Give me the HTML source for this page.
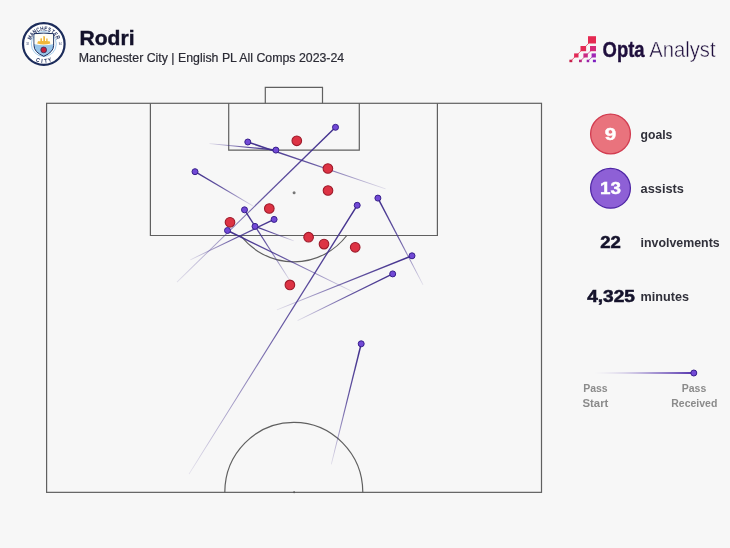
<!DOCTYPE html>
<html><head><meta charset="utf-8"><title>Rodri</title>
<style>
html,body{margin:0;padding:0;background:#f7f7f7;}
body{width:730px;height:548px;overflow:hidden;font-family:"Liberation Sans",sans-serif;}
svg{display:block;will-change:transform;}
text{font-family:"Liberation Sans",sans-serif;}
</style></head><body>
<svg width="730" height="548" viewBox="0 0 730 548">
<rect width="730" height="548" fill="#f7f7f7"/>

<defs><linearGradient id="g0" gradientUnits="userSpaceOnUse" x1="385.6360715595049" y1="188.88644716544974" x2="247.8" y2="142.0"><stop offset="0" stop-color="#402e8c" stop-opacity="0.12"/><stop offset="0.25" stop-color="#402e8c" stop-opacity="0.45"/><stop offset="0.55" stop-color="#402e8c" stop-opacity="0.8"/><stop offset="1" stop-color="#402e8c" stop-opacity="1.0"/></linearGradient><linearGradient id="g1" gradientUnits="userSpaceOnUse" x1="209.50556299909388" y1="143.68458660880816" x2="275.9" y2="150.1"><stop offset="0" stop-color="#402e8c" stop-opacity="0.12"/><stop offset="0.25" stop-color="#402e8c" stop-opacity="0.45"/><stop offset="0.55" stop-color="#402e8c" stop-opacity="0.8"/><stop offset="1" stop-color="#402e8c" stop-opacity="1.0"/></linearGradient><linearGradient id="g2" gradientUnits="userSpaceOnUse" x1="253.23232052333958" y1="206.2118123381331" x2="195.0" y2="171.7"><stop offset="0" stop-color="#402e8c" stop-opacity="0.12"/><stop offset="0.25" stop-color="#402e8c" stop-opacity="0.45"/><stop offset="0.55" stop-color="#402e8c" stop-opacity="0.8"/><stop offset="1" stop-color="#402e8c" stop-opacity="1.0"/></linearGradient><linearGradient id="g3" gradientUnits="userSpaceOnUse" x1="176.94145998883016" y1="282.1383967135077" x2="335.5" y2="127.3"><stop offset="0" stop-color="#402e8c" stop-opacity="0.12"/><stop offset="0.25" stop-color="#402e8c" stop-opacity="0.45"/><stop offset="0.55" stop-color="#402e8c" stop-opacity="0.8"/><stop offset="1" stop-color="#402e8c" stop-opacity="1.0"/></linearGradient><linearGradient id="g4" gradientUnits="userSpaceOnUse" x1="190.31921456256745" y1="259.82144303450497" x2="274.1" y2="219.4"><stop offset="0" stop-color="#402e8c" stop-opacity="0.12"/><stop offset="0.25" stop-color="#402e8c" stop-opacity="0.45"/><stop offset="0.55" stop-color="#402e8c" stop-opacity="0.8"/><stop offset="1" stop-color="#402e8c" stop-opacity="1.0"/></linearGradient><linearGradient id="g5" gradientUnits="userSpaceOnUse" x1="290.14759933766453" y1="281.01025496675663" x2="244.5" y2="209.8"><stop offset="0" stop-color="#402e8c" stop-opacity="0.12"/><stop offset="0.25" stop-color="#402e8c" stop-opacity="0.45"/><stop offset="0.55" stop-color="#402e8c" stop-opacity="0.8"/><stop offset="1" stop-color="#402e8c" stop-opacity="1.0"/></linearGradient><linearGradient id="g6" gradientUnits="userSpaceOnUse" x1="353.57843920437995" y1="292.02627833173744" x2="227.5" y2="230.5"><stop offset="0" stop-color="#402e8c" stop-opacity="0.12"/><stop offset="0.25" stop-color="#402e8c" stop-opacity="0.45"/><stop offset="0.55" stop-color="#402e8c" stop-opacity="0.8"/><stop offset="1" stop-color="#402e8c" stop-opacity="1.0"/></linearGradient><linearGradient id="g7" gradientUnits="userSpaceOnUse" x1="293.82493815101213" y1="240.81774891549523" x2="255.0" y2="226.4"><stop offset="0" stop-color="#402e8c" stop-opacity="0.12"/><stop offset="0.25" stop-color="#402e8c" stop-opacity="0.45"/><stop offset="0.55" stop-color="#402e8c" stop-opacity="0.8"/><stop offset="1" stop-color="#402e8c" stop-opacity="1.0"/></linearGradient><linearGradient id="g8" gradientUnits="userSpaceOnUse" x1="423.0539752333256" y1="284.86447707390147" x2="377.9" y2="198.1"><stop offset="0" stop-color="#402e8c" stop-opacity="0.12"/><stop offset="0.25" stop-color="#402e8c" stop-opacity="0.45"/><stop offset="0.55" stop-color="#402e8c" stop-opacity="0.8"/><stop offset="1" stop-color="#402e8c" stop-opacity="1.0"/></linearGradient><linearGradient id="g9" gradientUnits="userSpaceOnUse" x1="188.963386814103" y1="474.1172136705443" x2="357.2" y2="205.3"><stop offset="0" stop-color="#402e8c" stop-opacity="0.12"/><stop offset="0.25" stop-color="#402e8c" stop-opacity="0.45"/><stop offset="0.55" stop-color="#402e8c" stop-opacity="0.8"/><stop offset="1" stop-color="#402e8c" stop-opacity="1.0"/></linearGradient><linearGradient id="g10" gradientUnits="userSpaceOnUse" x1="276.8861148419308" y1="309.9463853208083" x2="412.0" y2="255.8"><stop offset="0" stop-color="#402e8c" stop-opacity="0.12"/><stop offset="0.25" stop-color="#402e8c" stop-opacity="0.45"/><stop offset="0.55" stop-color="#402e8c" stop-opacity="0.8"/><stop offset="1" stop-color="#402e8c" stop-opacity="1.0"/></linearGradient><linearGradient id="g11" gradientUnits="userSpaceOnUse" x1="297.52237091626813" y1="320.5279351834223" x2="392.7" y2="273.9"><stop offset="0" stop-color="#402e8c" stop-opacity="0.12"/><stop offset="0.25" stop-color="#402e8c" stop-opacity="0.45"/><stop offset="0.55" stop-color="#402e8c" stop-opacity="0.8"/><stop offset="1" stop-color="#402e8c" stop-opacity="1.0"/></linearGradient><linearGradient id="g12" gradientUnits="userSpaceOnUse" x1="331.31148075661736" y1="464.4647989724403" x2="361.2" y2="343.8"><stop offset="0" stop-color="#402e8c" stop-opacity="0.12"/><stop offset="0.25" stop-color="#402e8c" stop-opacity="0.45"/><stop offset="0.55" stop-color="#402e8c" stop-opacity="0.8"/><stop offset="1" stop-color="#402e8c" stop-opacity="1.0"/></linearGradient><linearGradient id="g99" gradientUnits="userSpaceOnUse" x1="594.0" y1="373.0" x2="693.8" y2="373.0"><stop offset="0" stop-color="#5433ad" stop-opacity="0.0"/><stop offset="0.3" stop-color="#5433ad" stop-opacity="0.32"/><stop offset="0.6" stop-color="#5433ad" stop-opacity="0.7"/><stop offset="1" stop-color="#5433ad" stop-opacity="1.0"/></linearGradient></defs>

<g fill="none" stroke="#606060" stroke-width="1.2">
<rect x="46.6" y="103.3" width="494.9" height="389.05"/>
<path d="M150.4 103.3 V235.5 H437.4 V103.3"/>
<path d="M228.7 103.3 V150.2 H359.3 V103.3"/>
<path d="M265.3 103.3 V87.4 H322.5 V103.3"/>
<path d="M240.7 235.5 A67.5 69.1 0 0 0 346.8 235.5"/>
<path d="M224.8 492.35 A69 70 0 0 1 362.8 492.35"/>
</g>
<circle cx="294.1" cy="192.8" r="1.5" fill="#777"/>
<circle cx="294.1" cy="492.35" r="1.0" fill="#555"/>
<polygon points="385.76,188.51 248.04,141.29 247.56,142.71 385.51,189.27" fill="url(#g0)"/>
<polygon points="209.47,144.08 275.83,150.85 275.97,149.35 209.54,143.29" fill="url(#g1)"/>
<polygon points="253.44,205.87 195.38,171.05 194.62,172.35 253.03,206.56" fill="url(#g2)"/>
<polygon points="177.22,282.42 336.02,127.84 334.98,126.76 176.66,281.85" fill="url(#g3)"/>
<polygon points="190.49,260.18 274.43,220.08 273.77,218.72 190.15,259.46" fill="url(#g4)"/>
<polygon points="290.48,280.79 245.13,209.40 243.87,210.20 289.81,281.23" fill="url(#g5)"/>
<polygon points="353.75,291.67 227.83,229.83 227.17,231.17 353.40,292.39" fill="url(#g6)"/>
<polygon points="293.96,240.44 255.26,225.70 254.74,227.10 293.69,241.19" fill="url(#g7)"/>
<polygon points="423.41,284.68 378.57,197.75 377.23,198.45 422.70,285.05" fill="url(#g8)"/>
<polygon points="189.30,474.33 357.84,205.70 356.56,204.90 188.62,473.91" fill="url(#g9)"/>
<polygon points="277.03,310.32 412.28,256.50 411.72,255.10 276.74,309.58" fill="url(#g10)"/>
<polygon points="297.70,320.89 393.03,274.57 392.37,273.23 297.35,320.17" fill="url(#g11)"/>
<polygon points="331.70,464.56 361.93,343.98 360.47,343.62 330.92,464.37" fill="url(#g12)"/>
<circle cx="296.8" cy="140.8" r="4.8" fill="#dd3344" stroke="#9e1a2a" stroke-width="1.1"/>
<circle cx="327.9" cy="168.5" r="4.8" fill="#dd3344" stroke="#9e1a2a" stroke-width="1.1"/>
<circle cx="328.0" cy="190.5" r="4.8" fill="#dd3344" stroke="#9e1a2a" stroke-width="1.1"/>
<circle cx="269.3" cy="208.5" r="4.8" fill="#dd3344" stroke="#9e1a2a" stroke-width="1.1"/>
<circle cx="230.0" cy="222.3" r="4.8" fill="#dd3344" stroke="#9e1a2a" stroke-width="1.1"/>
<circle cx="308.6" cy="237.2" r="4.8" fill="#dd3344" stroke="#9e1a2a" stroke-width="1.1"/>
<circle cx="324.0" cy="244.1" r="4.8" fill="#dd3344" stroke="#9e1a2a" stroke-width="1.1"/>
<circle cx="355.2" cy="247.3" r="4.8" fill="#dd3344" stroke="#9e1a2a" stroke-width="1.1"/>
<circle cx="289.9" cy="284.9" r="4.8" fill="#dd3344" stroke="#9e1a2a" stroke-width="1.1"/>
<circle cx="247.8" cy="142.0" r="3.0" fill="#7249d6" stroke="#38208c" stroke-width="1"/>
<circle cx="275.9" cy="150.1" r="3.0" fill="#7249d6" stroke="#38208c" stroke-width="1"/>
<circle cx="195.0" cy="171.7" r="3.0" fill="#7249d6" stroke="#38208c" stroke-width="1"/>
<circle cx="335.5" cy="127.3" r="3.0" fill="#7249d6" stroke="#38208c" stroke-width="1"/>
<circle cx="274.1" cy="219.4" r="3.0" fill="#7249d6" stroke="#38208c" stroke-width="1"/>
<circle cx="244.5" cy="209.8" r="3.0" fill="#7249d6" stroke="#38208c" stroke-width="1"/>
<circle cx="227.5" cy="230.5" r="3.0" fill="#7249d6" stroke="#38208c" stroke-width="1"/>
<circle cx="255.0" cy="226.4" r="3.0" fill="#7249d6" stroke="#38208c" stroke-width="1"/>
<circle cx="377.9" cy="198.1" r="3.0" fill="#7249d6" stroke="#38208c" stroke-width="1"/>
<circle cx="357.2" cy="205.3" r="3.0" fill="#7249d6" stroke="#38208c" stroke-width="1"/>
<circle cx="412.0" cy="255.8" r="3.0" fill="#7249d6" stroke="#38208c" stroke-width="1"/>
<circle cx="392.7" cy="273.9" r="3.0" fill="#7249d6" stroke="#38208c" stroke-width="1"/>
<circle cx="361.2" cy="343.8" r="3.0" fill="#7249d6" stroke="#38208c" stroke-width="1"/>
<text x="79.5" y="45.2" font-size="21" font-weight="700" fill="#14122b" stroke="#14122b" stroke-width="0.45" textLength="55.0" lengthAdjust="spacingAndGlyphs">Rodri</text>
<text x="78.8" y="62.2" font-size="12.3" fill="#2b2b35" stroke="#2b2b35" stroke-width="0.2" textLength="265.4" lengthAdjust="spacingAndGlyphs">Manchester City | English PL All Comps 2023-24</text>
<text x="602.6" y="56.6" font-size="22" font-weight="700" fill="#1f0f3d" stroke="#1f0f3d" stroke-width="0.4" textLength="42.0" lengthAdjust="spacingAndGlyphs">Opta</text>
<text x="649.3" y="56.6" font-size="22" fill="#1f0f3d" stroke="#f7f7f7" stroke-width="0.45" textLength="66.3" lengthAdjust="spacingAndGlyphs">Analyst</text>
<rect x="588" y="36.2" width="8" height="7.3" fill="#e52a52"/>
<rect x="580.5" y="46" width="5.6" height="5.2" fill="#e32a55"/>
<rect x="590" y="46" width="6" height="5.2" fill="#d52a78"/>
<rect x="574.1" y="53.4" width="4.4" height="4.1" fill="#e12a57"/>
<rect x="583.4" y="53.4" width="4.4" height="4.1" fill="#c92a86"/>
<rect x="591.6" y="53.4" width="4.3" height="4.1" fill="#a027b5"/>
<rect x="569.4" y="59.7" width="2.9" height="2.5" fill="#c4204a"/>
<rect x="579" y="59.7" width="2.8" height="2.5" fill="#b3247c"/>
<rect x="586.7" y="59.7" width="2.5" height="2.5" fill="#9a22a8"/>
<rect x="592.9" y="59.7" width="3" height="2.5" fill="#7d1fc0"/>
<g stroke-width="0.7" fill="none"><path d="M570.8 61 L592 40" stroke="#e52a52"/><path d="M580.4 61 L593 48.6" stroke="#cf2a7c"/><path d="M588 61 L593.8 55.4" stroke="#a027b5"/></g>
<g><circle cx="43.8" cy="44.0" r="20.8" fill="#fff" stroke="#1c2c5b" stroke-width="2.2"/><circle cx="43.8" cy="44.0" r="12.5" fill="none" stroke="#98c5e9" stroke-width="0.9"/><path d="M34.0 33.7 Q43.8 32.6 53.6 33.7 V45.5 Q53.6 52.2 43.8 56.3 Q34.0 52.2 34.0 45.5 Z" fill="#98c5e9" stroke="#1c2c5b" stroke-width="1"/><path d="M34.5 34.15 Q43.8 33.1 53.1 34.15 V44.3 Q43.8 46.2 34.5 44.3 Z" fill="#fffdf5"/><path d="M37.2 43.6 Q43.8 45.4 50.4 43.6 L49.6 41.2 H47.6 V38.4 L46.2 38.6 V41 H45 V36.4 L43.3 36.0 V41 H42 V38.2 L40.4 38.6 V41.2 H38 Z" fill="#f0b73a"/><circle cx="43.7" cy="49.9" r="2.9" fill="#c8203c" stroke="#1c2c5b" stroke-width="0.7"/><text transform="translate(31.75,38.38) rotate(-65.0) scale(0.78,1)" font-size="6.0" font-weight="700" fill="#1c2c5b" text-anchor="middle">M</text><text transform="translate(33.53,35.55) rotate(-50.6) scale(0.78,1)" font-size="6.0" font-weight="700" fill="#1c2c5b" text-anchor="middle">A</text><text transform="translate(35.96,33.26) rotate(-36.1) scale(0.78,1)" font-size="6.0" font-weight="700" fill="#1c2c5b" text-anchor="middle">N</text><text transform="translate(38.89,31.64) rotate(-21.7) scale(0.78,1)" font-size="6.0" font-weight="700" fill="#1c2c5b" text-anchor="middle">C</text><text transform="translate(42.13,30.81) rotate(-7.2) scale(0.78,1)" font-size="6.0" font-weight="700" fill="#1c2c5b" text-anchor="middle">H</text><text transform="translate(45.47,30.81) rotate(7.2) scale(0.78,1)" font-size="6.0" font-weight="700" fill="#1c2c5b" text-anchor="middle">E</text><text transform="translate(48.71,31.64) rotate(21.7) scale(0.78,1)" font-size="6.0" font-weight="700" fill="#1c2c5b" text-anchor="middle">S</text><text transform="translate(51.64,33.26) rotate(36.1) scale(0.78,1)" font-size="6.0" font-weight="700" fill="#1c2c5b" text-anchor="middle">T</text><text transform="translate(54.07,35.55) rotate(50.6) scale(0.78,1)" font-size="6.0" font-weight="700" fill="#1c2c5b" text-anchor="middle">E</text><text transform="translate(55.85,38.38) rotate(65.0) scale(0.78,1)" font-size="6.0" font-weight="700" fill="#1c2c5b" text-anchor="middle">R</text><text transform="translate(37.34,61.76) rotate(20.0) scale(0.88,1)" font-size="5.8" font-weight="700" fill="#1c2c5b" text-anchor="middle">C</text><text transform="translate(41.61,62.77) rotate(6.7) scale(0.88,1)" font-size="5.8" font-weight="700" fill="#1c2c5b" text-anchor="middle">I</text><text transform="translate(45.99,62.77) rotate(-6.7) scale(0.88,1)" font-size="5.8" font-weight="700" fill="#1c2c5b" text-anchor="middle">T</text><text transform="translate(50.26,61.76) rotate(-20.0) scale(0.88,1)" font-size="5.8" font-weight="700" fill="#1c2c5b" text-anchor="middle">Y</text><text x="27.6" y="45.0" font-size="2.6" fill="#1c2c5b" text-anchor="middle">18</text><text x="60.2" y="45.0" font-size="2.6" fill="#1c2c5b" text-anchor="middle">94</text></g>
<circle cx="610.5" cy="134" r="19.9" fill="#e9737d" stroke="#d23c50" stroke-width="1.3"/>
<circle cx="610.5" cy="188.3" r="19.9" fill="#8e60d6" stroke="#4f27a6" stroke-width="1.3"/>
<text x="610.5" y="140.0" font-size="17" font-weight="700" fill="#fff" stroke="#fff" stroke-width="0.4" text-anchor="middle" textLength="11.5" lengthAdjust="spacingAndGlyphs">9</text>
<text x="610.5" y="194.4" font-size="17" font-weight="700" fill="#fff" stroke="#fff" stroke-width="0.4" text-anchor="middle" textLength="21" lengthAdjust="spacingAndGlyphs">13</text>
<text x="640.6" y="139.0" font-size="12.6" font-weight="700" fill="#30303a" textLength="31.8" lengthAdjust="spacingAndGlyphs">goals</text>
<text x="640.6" y="192.7" font-size="12.6" font-weight="700" fill="#30303a" textLength="43.4" lengthAdjust="spacingAndGlyphs">assists</text>
<text x="640.6" y="246.8" font-size="12.6" font-weight="700" fill="#30303a" textLength="79.1" lengthAdjust="spacingAndGlyphs">involvements</text>
<text x="640.6" y="300.6" font-size="12.6" font-weight="700" fill="#30303a" textLength="48.4" lengthAdjust="spacingAndGlyphs">minutes</text>
<text x="600.3" y="248.3" font-size="17" font-weight="700" fill="#14122b" stroke="#14122b" stroke-width="0.55" textLength="20.6" lengthAdjust="spacingAndGlyphs">22</text>
<text x="587.2" y="302.0" font-size="17" font-weight="700" fill="#14122b" stroke="#14122b" stroke-width="0.55" textLength="47.7" lengthAdjust="spacingAndGlyphs">4,325</text>
<polygon points="594.00,373.25 693.80,373.95 693.80,372.05 594.00,372.75" fill="url(#g99)"/>
<circle cx="693.8" cy="373" r="3.0" fill="#7249d6" stroke="#38208c" stroke-width="1"/>
<text x="583.2" y="391.6" font-size="10.6" font-weight="700" fill="#8b8b8b" textLength="24.5" lengthAdjust="spacingAndGlyphs">Pass</text>
<text x="582.5" y="407.0" font-size="10.6" font-weight="700" fill="#8b8b8b" textLength="25.9" lengthAdjust="spacingAndGlyphs">Start</text>
<text x="681.8" y="391.6" font-size="10.6" font-weight="700" fill="#8b8b8b" textLength="24.5" lengthAdjust="spacingAndGlyphs">Pass</text>
<text x="671.3" y="407.0" font-size="10.6" font-weight="700" fill="#8b8b8b" textLength="46.0" lengthAdjust="spacingAndGlyphs">Received</text>
</svg></body></html>
